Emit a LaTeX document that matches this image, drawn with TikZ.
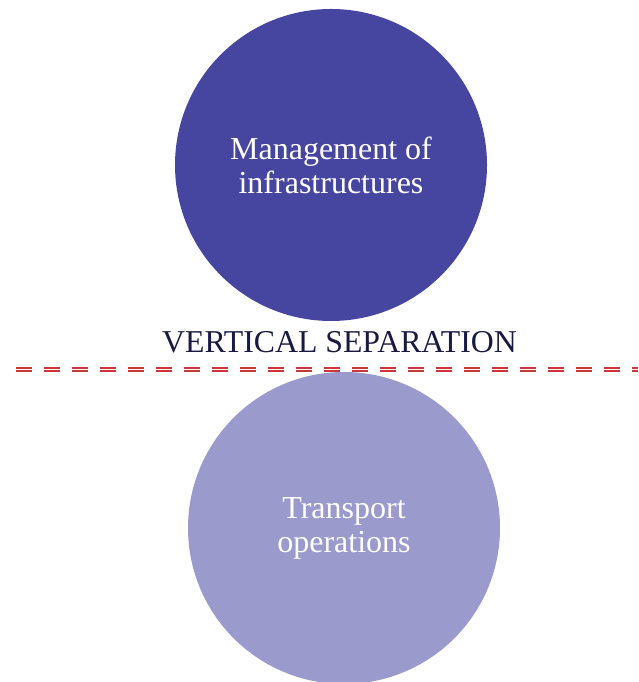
\documentclass[tikz,border=0pt]{standalone}
\usepackage{fontspec}
\setmainfont{Liberation Serif}
\usepackage{tikz}
\usetikzlibrary{positioning}

\definecolor{infra}{RGB}{70,70,160}
\definecolor{oper}{RGB}{154,154,204}
\definecolor{sepred}{RGB}{205,55,55}
\definecolor{navy}{RGB}{25,25,65}

\begin{document}
\begin{tikzpicture}[
                    x=1pt,
                    y=1pt,
                    bubble/.style={circle, minimum size=312pt, inner sep=0pt,
                        text=white, align=center, font=\fontsize{32}{34}\selectfont},
                    sepline/.style={draw=sepred, double=white, double distance=1pt,
                        line width=2pt, dash pattern=on 16pt off 12pt}
                ]
                \useasboundingbox (0,0) rectangle (638,682);
                \node[bubble, fill=infra] (infra) at (331,517) {Management of\\infrastructures};
                \node[bubble, fill=oper] (oper) at (344,154) {Transport\\operations};
                \node[text=navy, anchor=base, inner sep=0pt,
                      font=\fontsize{31.8}{34}\selectfont] (vsep) at (339.5,329) {VERTICAL SEPARATION};

                \coordinate (lft) at (16,312);
                \coordinate (rgt) at (638,312);
                \path[sepline] (lft) -- (rgt);
            \end{tikzpicture}
\end{document}
